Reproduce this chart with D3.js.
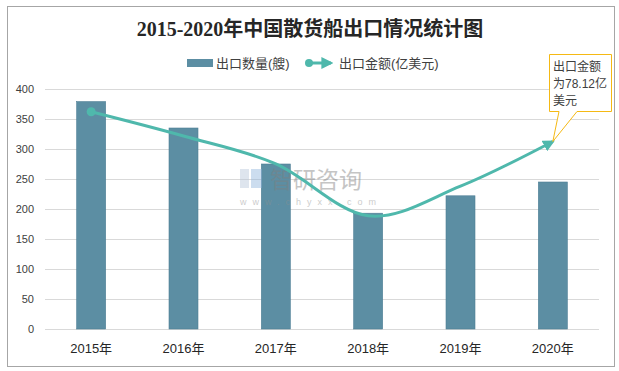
<!DOCTYPE html>
<html>
<head>
<meta charset="utf-8">
<script src="https://cdn.jsdelivr.net/npm/d3@7/dist/d3.min.js"></script>
<style>
  body { margin: 0; background: #fff; }
  text { font-family: "Liberation Sans", "Noto Sans CJK SC", sans-serif; }
</style>
</head>
<body>
<div id="chart"></div>
<script>
var width = 619, height = 371;

var years = ["2015年", "2016年", "2017年", "2018年", "2019年", "2020年"];
var counts = [379, 335, 275, 193, 222, 245];          // 出口数量(艘)
var amounts = [90.5, 80.4, 68.8, 47.2, 59.5, 78.12];   // 出口金额(亿美元)
var yTicks = [0, 50, 100, 150, 200, 250, 300, 350, 400];

var barColor = "#5c8ea3",
    lineColor = "#4fb8ac";

var svg = d3.select("#chart").append("svg")
    .attr("width", width)
    .attr("height", height);

svg.append("rect")
    .attr("x", 7.5).attr("y", 6.5)
    .attr("width", 607).attr("height", 360)
    .attr("fill", "#fff")
    .attr("stroke", "#a6a6a6");

// title
svg.append("text")
    .attr("x", 310).attr("y", 36)
    .attr("text-anchor", "middle")
    .attr("font-size", 20)
    .attr("font-weight", "bold")
    .attr("fill", "#262626")
    .style("font-family", "'Liberation Serif', 'Noto Sans CJK SC', serif")
    .text("2015-2020年中国散货船出口情况统计图");

var x = d3.scaleBand()
    .domain(years)
    .range([45, 599]);

var y = d3.scaleLinear()
    .domain([0, 400])
    .range([329, 89]);

// hidden secondary axis for the line
var y2 = d3.scaleLinear()
    .domain([0, 100])
    .range([329, 89]);

// grid
svg.append("g")
    .selectAll("line")
    .data(yTicks)
    .enter()
    .append("line")
    .attr("x1", 45).attr("x2", 599)
    .attr("y1", d => Math.round(y(d)) + 0.5)
    .attr("y2", d => Math.round(y(d)) + 0.5)
    .attr("stroke", "#d9d9d9");

// y labels
svg.append("g")
    .selectAll("text")
    .data(yTicks)
    .enter()
    .append("text")
    .attr("x", 34)
    .attr("y", d => y(d) + 4)
    .attr("text-anchor", "end")
    .attr("font-size", 11)
    .attr("fill", "#404040")
    .text(d => d);

// bars
var barW = 29;
svg.append("g")
    .selectAll("rect")
    .data(counts)
    .enter()
    .append("rect")
    .attr("x", (d, i) => x(years[i]) + x.bandwidth() / 2 - barW / 2)
    .attr("y", d => y(d))
    .attr("width", barW)
    .attr("height", d => y(0) - y(d))
    .attr("fill", barColor)
    .attr("stroke", "#4f7f95")
    .attr("stroke-width", 0.6);

// watermark (over the bars)
var wm = svg.append("g").attr("opacity", 0.45);
wm.append("rect").attr("x", 240).attr("y", 169).attr("width", 9).attr("height", 19).attr("fill", "#b7c6da");
wm.append("rect").attr("x", 251).attr("y", 169).attr("width", 11).attr("height", 19).attr("fill", "#8fb4dc");
wm.append("text")
    .attr("x", 270).attr("y", 188)
    .attr("font-size", 23)
    .attr("fill", "#7f7f7f")
    .style("font-family", "'Noto Sans CJK SC', sans-serif")
    .text("智研咨询");
wm.append("text")
    .attr("x", 240).attr("y", 205)
    .attr("font-size", 9)
    .attr("letter-spacing", 6)
    .attr("fill", "#8f8f8f")
    .text("www.chyxx.com");

// x labels
svg.append("g")
    .selectAll("text")
    .data(years)
    .enter()
    .append("text")
    .attr("x", d => x(d) + x.bandwidth() / 2)
    .attr("y", 353)
    .attr("text-anchor", "middle")
    .attr("font-size", 13)
    .attr("fill", "#262626")
    .text(d => d);

// arrow marker
var defs = svg.append("defs");
defs.append("marker")
    .attr("id", "arrow")
    .attr("viewBox", "0 0 10 10")
    .attr("refX", 8).attr("refY", 5)
    .attr("markerWidth", 4).attr("markerHeight", 4)
    .attr("orient", "auto")
    .append("path")
    .attr("d", "M0,0L10,5L0,10Z")
    .attr("fill", lineColor);

var line = d3.line()
    .x((d, i) => x(years[i]) + x.bandwidth() / 2)
    .y(d => y2(d))
    .curve(d3.curveCardinal.tension(0));

svg.append("path")
    .datum(amounts)
    .attr("d", line)
    .attr("fill", "none")
    .attr("stroke", lineColor)
    .attr("stroke-width", 3)
    .attr("marker-end", "url(#arrow)");

svg.append("circle")
    .attr("cx", x(years[0]) + x.bandwidth() / 2)
    .attr("cy", y2(amounts[0]))
    .attr("r", 4.5)
    .attr("fill", lineColor);

// legend
var lg = svg.append("g");
lg.append("rect")
    .attr("x", 187).attr("y", 59)
    .attr("width", 26).attr("height", 8)
    .attr("fill", barColor);
lg.append("text")
    .attr("x", 216).attr("y", 68)
    .attr("font-size", 13)
    .attr("fill", "#404040")
    .text("出口数量(艘)");
lg.append("line")
    .attr("x1", 309).attr("x2", 331)
    .attr("y1", 63).attr("y2", 63)
    .attr("stroke", lineColor)
    .attr("stroke-width", 3)
    .attr("marker-end", "url(#arrow)");
lg.append("circle")
    .attr("cx", 309).attr("cy", 63).attr("r", 4)
    .attr("fill", lineColor);
lg.append("text")
    .attr("x", 339).attr("y", 68)
    .attr("font-size", 13)
    .attr("fill", "#404040")
    .text("出口金额(亿美元)");

// callout for 2020
var tipX = x(years[5]) + x.bandwidth() / 2,
    tipY = y2(amounts[5]);
var co = svg.append("g");
co.append("path")
    .attr("d", "M549.5,54.5H611.5V111.5H577L" + tipX + "," + tipY + "L559,111.5H549.5Z")
    .attr("fill", "#fff")
    .attr("stroke", "#f5b914")
    .attr("stroke-width", 1);
var coLines = ["出口金额", "为" + amounts[5] + "亿", "美元"];
co.selectAll("text")
    .data(coLines)
    .enter()
    .append("text")
    .attr("x", 553)
    .attr("y", (d, i) => 71 + i * 17)
    .attr("font-size", 12)
    .attr("fill", "#404040")
    .text(d => d);
</script>
</body>
</html>
